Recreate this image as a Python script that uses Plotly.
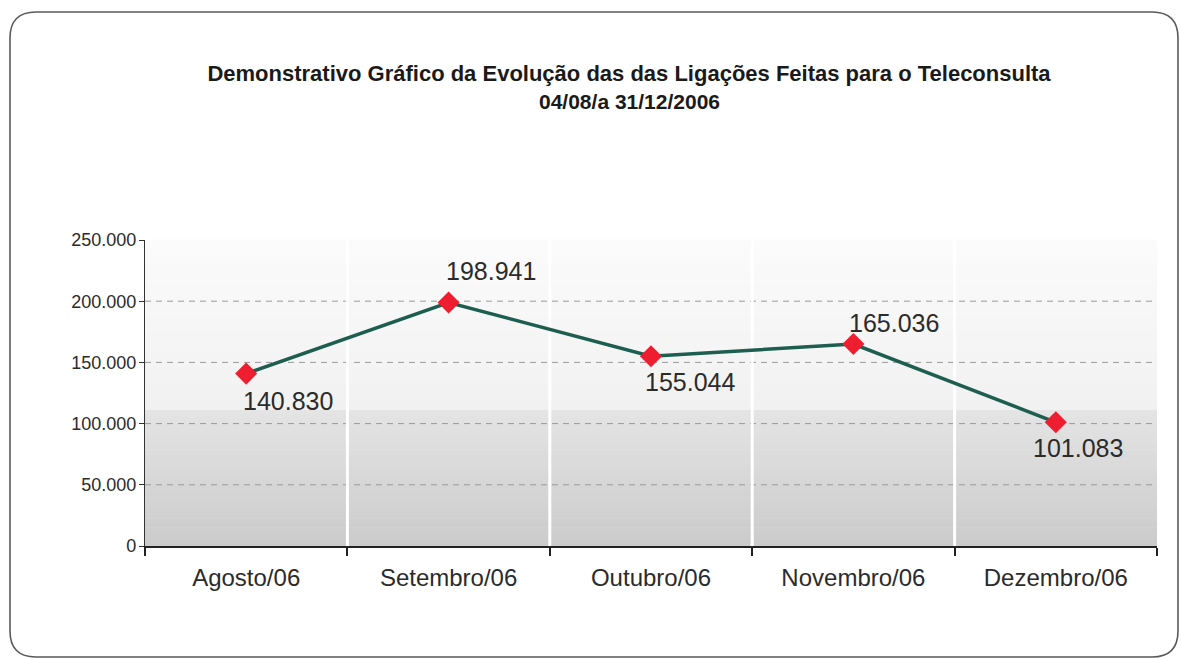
import plotly.graph_objects as go

# ---- data ----
categories = ["Agosto/06", "Setembro/06", "Outubro/06", "Novembro/06", "Dezembro/06"]
ligacoes = [140830, 198941, 155044, 165036, 101083]
y_ticks = [0, 50000, 100000, 150000, 200000, 250000]
title_line1 = "Demonstrativo Gráfico da Evolução das das Ligações Feitas para o Teleconsulta"
title_line2 = "04/08/a 31/12/2006"

# ---- styling / geometry ----
W, H = 1181, 659
ML, MR, MT, MB = 145, 24, 240, 113
PW, PH = W - ML - MR, H - MT - MB

def px_to_paper_x(px):
    return (px - ML) / PW

def px_to_paper_y(py):
    return (H - MB - py) / PH

FONT = "Liberation Sans, Arial, sans-serif"

def fmt(v):
    return f"{v:,}".replace(",", ".")

fig = go.Figure()

fig.add_trace(go.Scatter(
    x=categories, y=ligacoes, mode="lines+markers",
    line=dict(color="#1d5e50", width=3.5),
    marker=dict(symbol="diamond", size=17, color="#ee1d2f", line=dict(width=0)),
    showlegend=False, hoverinfo="x+y",
))

shapes = []
def lerp(c1, c2, t):
    return tuple(round(a + (b - a) * t) for a, b in zip(c1, c2))

split = (546 - 410) / PH
nb = 30
for i in range(nb):
    y0 = split * i / nb
    y1 = split * (i + 1) / nb
    c = lerp((203, 203, 203), (228, 228, 228), i / (nb - 1))
    shapes.append(dict(type="rect", xref="x domain", yref="y domain", x0=0, x1=1, y0=y0, y1=y1 + 0.002,
                       fillcolor=f"rgb{c}", line=dict(width=0), layer="below"))
nb2 = 20
for i in range(nb2):
    y0 = split + (1 - split) * i / nb2
    y1 = split + (1 - split) * (i + 1) / nb2
    c = lerp((241, 241, 241), (251, 251, 251), i / (nb2 - 1))
    shapes.append(dict(type="rect", xref="x domain", yref="y domain", x0=0, x1=1, y0=y0, y1=y1 + 0.002,
                       fillcolor=f"rgb{c}", line=dict(width=0), layer="below"))
for v in y_ticks[1:-1]:
    shapes.append(dict(type="line", xref="x domain", yref="y", x0=0, x1=1, y0=v, y1=v,
                       line=dict(color="#9a9a9a", width=1, dash="6px,5px"), layer="below"))
for k in range(1, len(categories)):
    shapes.append(dict(type="line", xref="x", yref="y domain", x0=k - 0.5, x1=k - 0.5, y0=0, y1=1,
                       line=dict(color="white", width=3), layer="below"))

# rounded outer border
bx0, by0, bx1, by1, r = 10, 12, 1178, 657, 26
X = px_to_paper_x
Y = px_to_paper_y
path = (f"M {X(bx0 + r)} {Y(by0)} L {X(bx1 - r)} {Y(by0)} "
        f"Q {X(bx1)} {Y(by0)} {X(bx1)} {Y(by0 + r)} "
        f"L {X(bx1)} {Y(by1 - r)} Q {X(bx1)} {Y(by1)} {X(bx1 - r)} {Y(by1)} "
        f"L {X(bx0 + r)} {Y(by1)} Q {X(bx0)} {Y(by1)} {X(bx0)} {Y(by1 - r)} "
        f"L {X(bx0)} {Y(by0 + r)} Q {X(bx0)} {Y(by0)} {X(bx0 + r)} {Y(by0)} Z")
shapes.append(dict(type="path", xref="paper", yref="paper", path=path,
                   line=dict(color="#5a5a5a", width=1.6), layer="below"))

label_dx = [42, 42, 39, 41, 22]
label_dy = [-27, 32, -26, 21, -26]
annotations = []
for c, v, dx, dy in zip(categories, ligacoes, label_dx, label_dy):
    annotations.append(dict(x=c, y=v, xref="x", yref="y", text=fmt(v), showarrow=False,
                            xanchor="center", yanchor="middle", xshift=dx, yshift=dy,
                            font=dict(family=FONT, size=25, color="#2b2b2b")))
annotations.append(dict(x=px_to_paper_x(629), y=px_to_paper_y(101), xref="paper", yref="paper",
                        text=f"<b>{title_line2}</b>", showarrow=False, xanchor="center", yanchor="middle",
                        font=dict(family=FONT, size=21, color="#1a1a1a")))

fig.update_layout(
    width=W, height=H,
    margin=dict(l=ML, r=MR, t=MT, b=MB),
    paper_bgcolor="white", plot_bgcolor="rgba(0,0,0,0)",
    separators=",.",
    title=dict(text=f"<b>{title_line1}</b>", x=629 / W, xanchor="center", xref="container",
               y=1 - 73 / H, yanchor="middle", yref="container",
               font=dict(family=FONT, size=22, color="#1a1a1a")),
    xaxis=dict(type="category", range=[-0.5, len(categories) - 0.5], showgrid=False,
               showline=True, linecolor="#222", linewidth=2,
               ticks="outside", tickson="boundaries", ticklen=8, tickcolor="#222", tickwidth=2,
               tickfont=dict(family=FONT, size=24, color="#2b2b2b"), ticklabelstandoff=9,
               zeroline=False),
    yaxis=dict(range=[0, 250000], tickvals=y_ticks, tickformat=",d", showgrid=False,
               showline=True, linecolor="#333", linewidth=1.2,
               ticks="outside", ticklen=5, tickcolor="#333", tickwidth=1.2,
               tickfont=dict(family=FONT, size=18, color="#2b2b2b"), ticklabelstandoff=-1,
               zeroline=False),
    shapes=shapes,
    annotations=annotations,
)

fig.write_html("out.html", config={"displayModeBar": False},
               post_script="document.body.style.margin='0';")
